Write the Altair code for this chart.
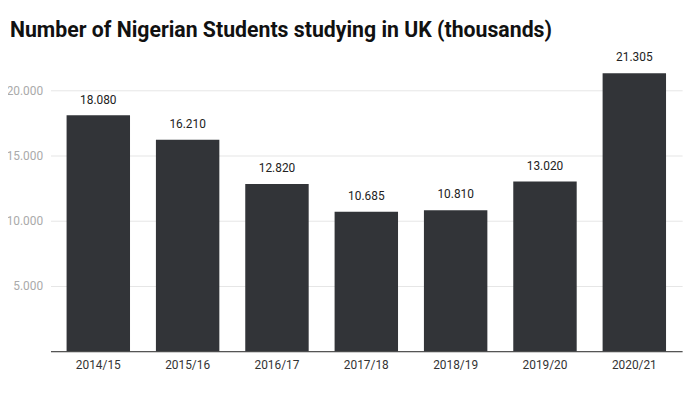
import altair as alt
import pandas as pd

years = ["2014/15", "2015/16", "2016/17", "2017/18", "2018/19", "2019/20", "2020/21"]
students = [18080, 16210, 12820, 10685, 10810, 13020, 21305]

df = pd.DataFrame({"year": years, "students": students})

FONT = "Roboto"
BAR = "#323438"

base = alt.Chart(df).transform_calculate(
    lbl="replace(format(datum.students, ','), ',', '.')"
)

x = alt.X("year:N", sort=years, title=None,
          scale=alt.Scale(paddingInner=0.29, paddingOuter=0.18),
          axis=alt.Axis(labelAngle=0, ticks=False, domain=True, domainColor="#222222",
                        labelColor="#333333", labelFont=FONT, labelFontSize=12,
                        labelPadding=8, grid=False))
y = alt.Y("students:Q", title=None,
          scale=alt.Scale(domain=[0, 22200], nice=False),
          axis=alt.Axis(values=[5000, 10000, 15000, 20000], ticks=False, domain=False,
                        labelColor="#aaaaaa", labelFont=FONT, labelFontSize=12,
                        labelPadding=8, gridColor="#e6e6e6",
                        labelExpr="replace(format(datum.value, ','), ',', '.')"))

bars = base.mark_bar(color=BAR).encode(x=x, y=y)
text = base.mark_text(dy=-9, baseline="bottom", font=FONT, fontSize=12, color="#222222").encode(
    x=alt.X("year:N", sort=years), y="students:Q", text="lbl:N")

chart = (bars + text).properties(
    width=639, height=293,
    background="white",
    autosize=alt.AutoSizeParams(type="none"),
    padding={"left": 43, "top": 52, "right": 10, "bottom": 40},
    title=alt.TitleParams("Number of Nigerian Students studying in UK (thousands)",
                          anchor="start", font=FONT, fontSize=21.5, fontWeight="bold",
                          color="#111111", dx=-41, offset=10, frame="group"),
).configure_view(strokeWidth=0)

chart.save("out.html", embed_options={"renderer": "svg", "actions": False})
